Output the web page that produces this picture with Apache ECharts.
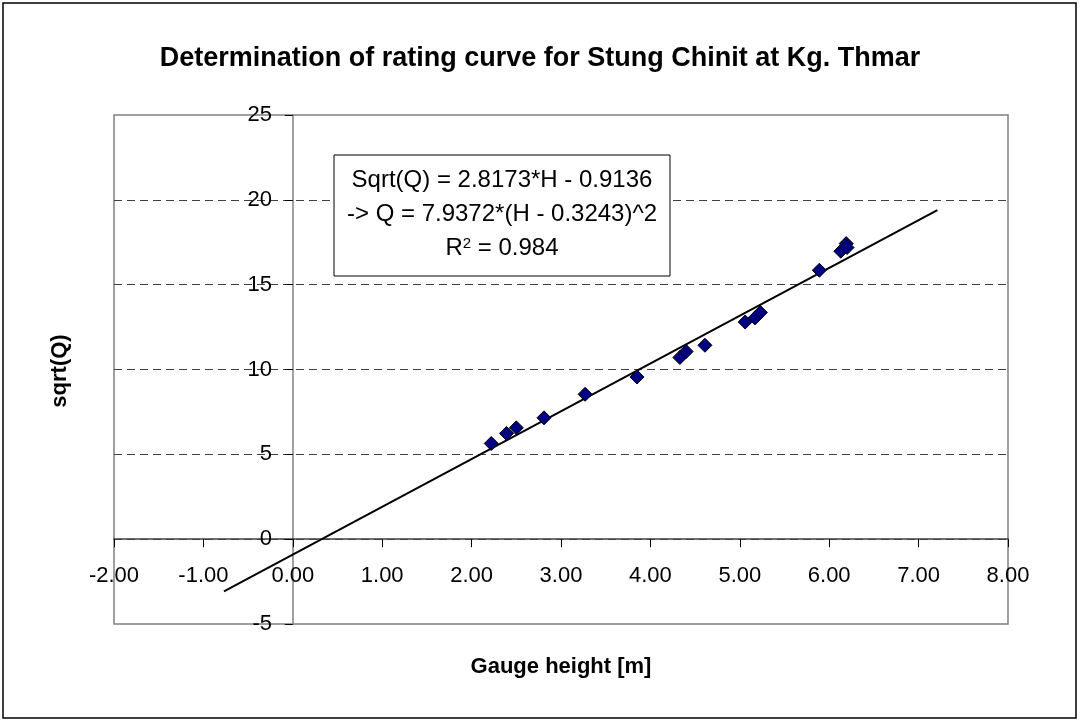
<!DOCTYPE html>
<html lang="en">
<head>
  <meta charset="UTF-8">
  <title>Rating curve</title>
  <script src="https://cdn.jsdelivr.net/npm/echarts@6/dist/echarts.min.js"></script>
  <style>
    html, body { margin: 0; padding: 0; background: #fff; }
    #main { width: 1080px; height: 720px; }
  </style>
</head>
<body>
  <div id="main"></div>
  <script type="text/javascript">
    // measured points: gauge height H [m] and sqrt(Q)
    var gaugeHeight = [2.22, 2.39, 2.50, 2.81, 3.27, 3.85, 4.33, 4.40, 4.61, 5.06, 5.17, 5.23, 5.89, 6.13, 6.19, 6.20];
    var sqrtQ = [5.64, 6.23, 6.56, 7.15, 8.54, 9.56, 10.71, 11.06, 11.43, 12.80, 13.04, 13.36, 15.85, 16.97, 17.42, 17.19];
    // trendline ends
    var trendX = [-0.77, 7.21];
    var trendY = [-3.08, 19.40];
    var boxLines = ['Sqrt(Q) = 2.8173*H - 0.9136', '-> Q = 7.9372*(H - 0.3243)^2'];

    var font = 'Liberation Sans, Arial, sans-serif';
    var points = gaugeHeight.map(function (h, i) { return [h, sqrtQ[i]]; });
    var trend = trendX.map(function (x, i) { return [x, trendY[i]]; });

    var myChart = echarts.init(document.getElementById('main'));
    var option = {
      backgroundColor: '#fff',
      animation: false,
      title: {
        text: 'Determination of rating curve for Stung Chinit at Kg. Thmar',
        left: 'center',
        top: 40,
        textStyle: { fontFamily: font, fontSize: 27, fontWeight: 'bold', color: '#000' }
      },
      grid: { left: 114, right: 72, top: 115, bottom: 96, show: true, borderColor: '#808080', borderWidth: 1.5 },
      xAxis: {
        type: 'value', min: -2, max: 8, interval: 1,
        axisLine: { onZero: true, lineStyle: { color: '#404040', width: 1.5 } },
        axisTick: { length: 8, lineStyle: { color: '#000' } },
        // labels are laid out from the grid edge, pull them up under the zero line
        axisLabel: { fontFamily: font, fontSize: 22, color: '#000', margin: -59,
          formatter: function (v) { return v.toFixed(2); } },
        splitLine: { show: false }
      },
      yAxis: {
        type: 'value', min: -5, max: 25, interval: 5,
        axisLine: { show: true, onZero: true, lineStyle: { color: '#808080', width: 1.5 } },
        axisTick: { show: true, length: 8, lineStyle: { color: '#000' } },
        axisLabel: { fontFamily: font, fontSize: 22, color: '#000', margin: -158 },
        splitLine: { show: true, showMinLine: false, showMaxLine: false,
          lineStyle: { color: '#404040', type: [8, 5], width: 1 } }
      },
      graphic: [
        { type: 'rect', shape: { x: 3, y: 3, width: 1073, height: 715 }, style: { fill: null, stroke: '#000', lineWidth: 1.5 }, silent: true },
        { type: 'text', x: 561, y: 667, style: { text: 'Gauge height [m]', font: 'bold 22px ' + font, fill: '#000', align: 'center', verticalAlign: 'middle' } },
        { type: 'text', x: 60, y: 371, rotation: Math.PI / 2,
          style: { text: 'sqrt(Q)', font: 'bold 22px ' + font, fill: '#000', align: 'center', verticalAlign: 'middle' } },
        { type: 'rect', z: 10, shape: { x: 334, y: 155, width: 336, height: 121 }, style: { fill: '#fff', stroke: '#000', lineWidth: 1 } },
        { type: 'text', z: 11, x: 502, y: 180, style: { text: boxLines[0], font: '24px ' + font, fill: '#000', align: 'center', verticalAlign: 'middle' } },
        { type: 'text', z: 11, x: 502, y: 214, style: { text: boxLines[1], font: '24px ' + font, fill: '#000', align: 'center', verticalAlign: 'middle' } },
        { type: 'text', z: 11, x: 502, y: 248, style: {
            text: '{a|R}{s|2}{a| = 0.984}', align: 'center', verticalAlign: 'middle',
            rich: {
              a: { fontFamily: font, fontSize: 24, color: '#000', verticalAlign: 'bottom' },
              s: { fontFamily: font, fontSize: 15, color: '#000', verticalAlign: 'top' }
            } } }
      ],
      series: [
        {
          name: 'trend', type: 'line', data: trend, symbol: 'none',
          lineStyle: { color: '#000', width: 2 }, z: 2
        },
        {
          name: 'measured', type: 'scatter', data: points, symbol: 'diamond', symbolSize: 14,
          itemStyle: { color: '#000080', borderColor: '#000', borderWidth: 1, opacity: 1 }, z: 3
        }
      ]
    };
    myChart.setOption(option, true);
  </script>
</body>
</html>
